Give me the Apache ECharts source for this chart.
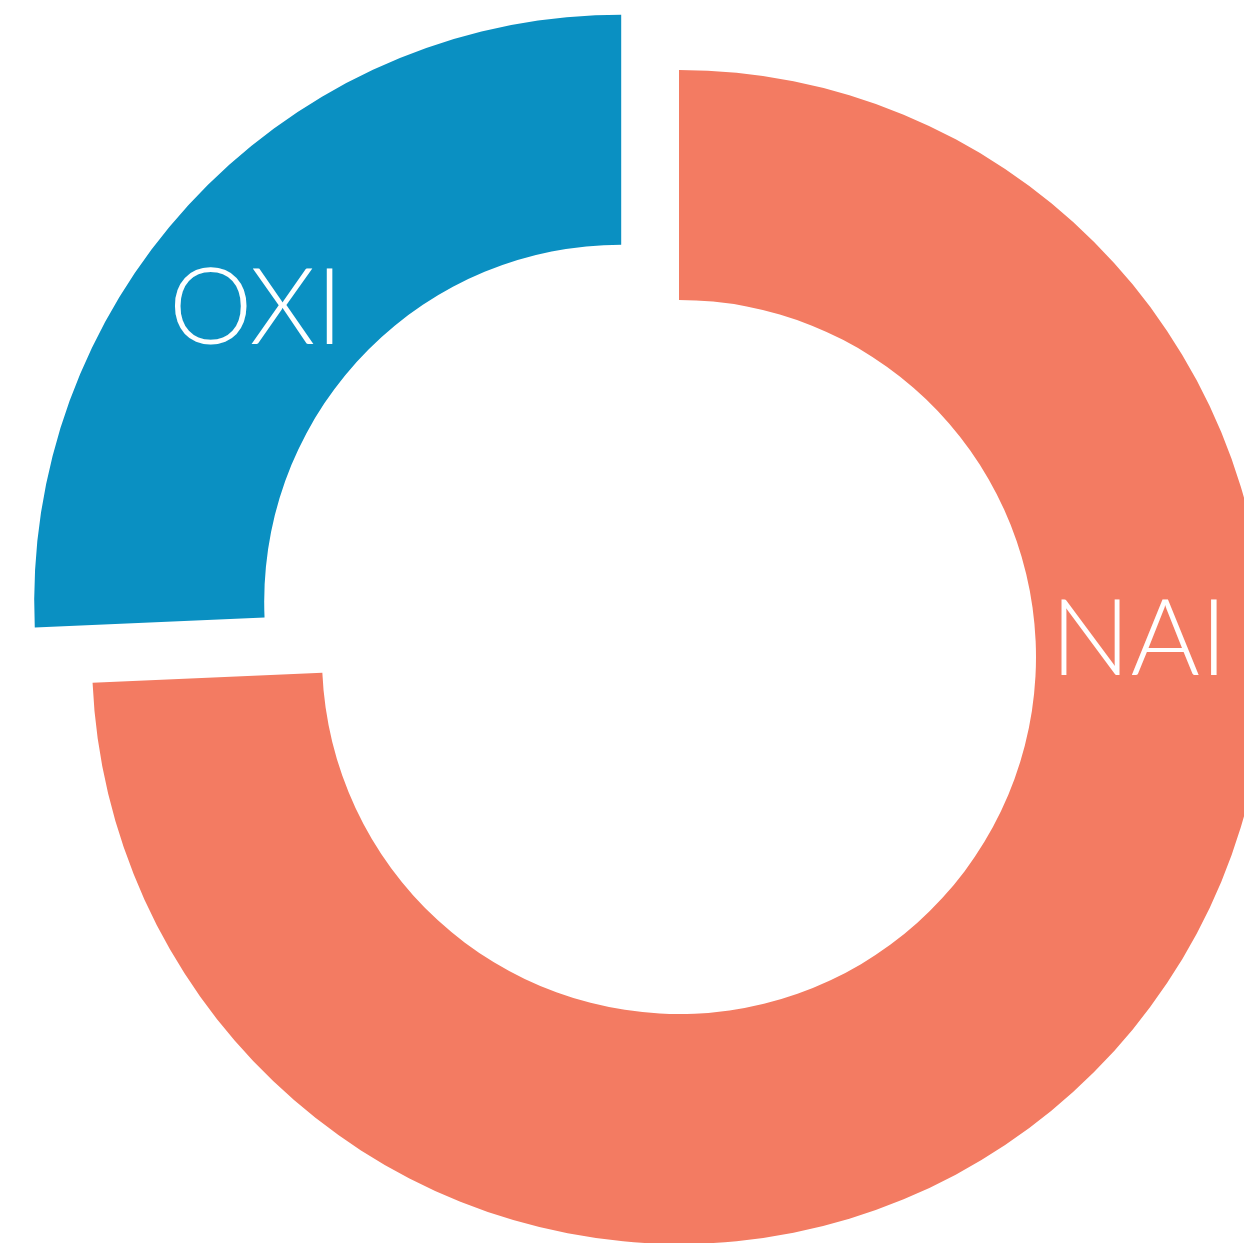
<!DOCTYPE html>
<html>
<head>
<meta charset="utf-8">
<script src="https://cdn.jsdelivr.net/npm/echarts@6/dist/echarts.min.js"></script>
<style>
  html, body { margin: 0; padding: 0; background: #fff; }
  #chart { width: 1244px; height: 1243px; }
</style>
</head>
<body>
<div id="chart"></div>
<script>
// data
const names = ["NAI", "OXI"]
const values = [74.3, 25.7]
const colors = ["#F37B62", "#0A90C2"]
const exploded = [false, true]

const center = [679, 657]
const offset = 80
// label centres, relative to the main centre
const labelPos = [[460, -16], [-423, -347]]

let myChart = echarts.init(document.getElementById("chart"))

myChart.setOption({
  animation: false,
  series: [
    {
      type: "pie",
      center: center,
      radius: [357, 587],
      startAngle: 90,
      clockwise: true,
      selectedMode: "multiple",
      selectedOffset: offset,
      avoidLabelOverlap: false,
      emphasis: { disabled: true },
      select: { itemStyle: { borderWidth: 0 } },
      label: { show: false },
      labelLine: { show: false },
      data: names.map((n, i) => ({
        name: n,
        value: values[i],
        selected: exploded[i],
        itemStyle: { color: colors[i] },
      })),
    },
  ],
  graphic: names.map((n, i) => ({
    type: "text",
    x: center[0] + labelPos[i][0],
    y: center[1] + labelPos[i][1],
    z: 100,
    silent: true,
    style: {
      text: n,
      fill: "#fff",
      fontFamily: "Lato",
      fontWeight: 300,
      fontSize: 106,
      align: "center",
      verticalAlign: "middle",
    },
  })),
})
</script>
</body>
</html>
